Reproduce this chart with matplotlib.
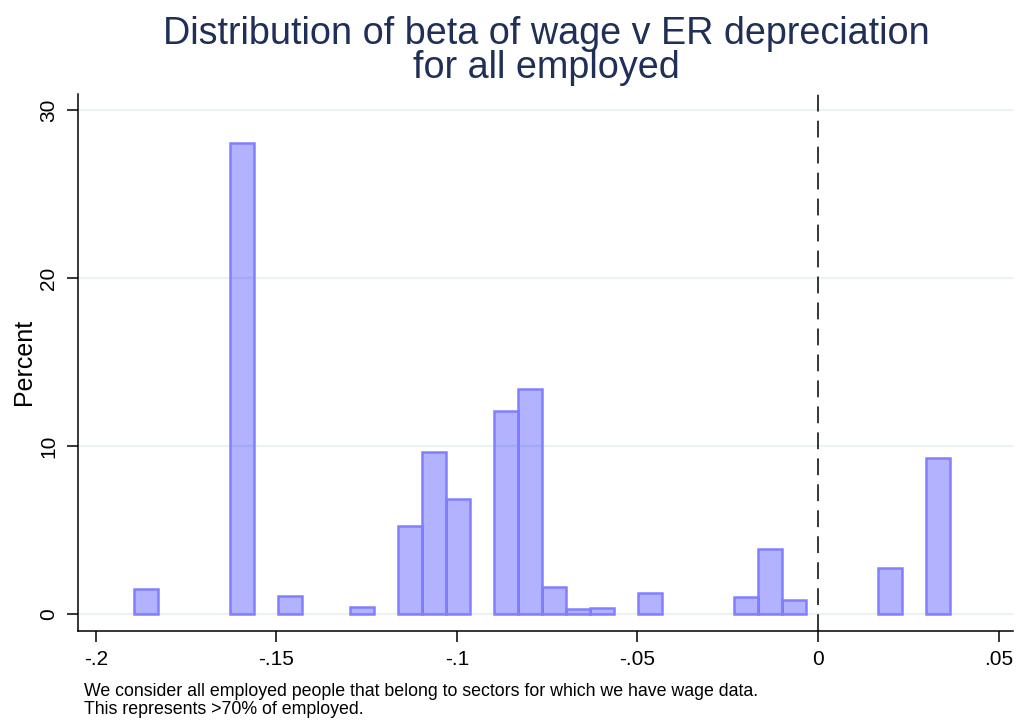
import matplotlib
matplotlib.use("Agg")
import matplotlib.pyplot as plt

plt.rcParams["font.family"] = ["Liberation Sans", "DejaVu Sans"]

# histogram bins: lower edge of each non-empty bin and its percent
bin_width = 0.006642
bin_lo = [-0.1894, -0.1628, -0.1495, -0.1296, -0.1163, -0.1097, -0.1031,
          -0.0898, -0.0831, -0.0765, -0.0698, -0.0632, -0.0499,
          -0.0234, -0.0167, -0.0101, 0.0165, 0.0298]
percent = [1.45, 28.08, 1.07, 0.38, 5.23, 9.64, 6.84,
           12.1, 13.42, 1.61, 0.26, 0.36, 1.25,
           0.99, 3.88, 0.83, 2.74, 9.30]

x_ticks = [-0.2, -0.15, -0.1, -0.05, 0, 0.05]
x_labels = ["-.2", "-.15", "-.1", "-.05", "0", ".05"]
y_ticks = [0, 10, 20, 30]

title = "Distribution of beta of wage v ER depreciation\nfor all employed"
note = ("We consider all employed people that belong to sectors for which we have wage data.\n"
        "This represents >70% of employed.")

fig = plt.figure(figsize=(10.16, 7.23), dpi=100)
ax = fig.add_axes([0.0765, 0.1272, 0.9206, 0.7433])

for y in y_ticks:
    ax.axhline(y, color="#eaf2f3", linewidth=1.6, zorder=0)

ax.bar(bin_lo, percent, width=bin_width, align="edge",
       facecolor=(0, 0, 1, 0.3), edgecolor="#8080ff", linewidth=1.8, zorder=2)

ax.axvline(0, color="black", linewidth=1.1, dashes=(11, 6), zorder=3)

ax.set_xlim(-0.205, 0.054)
ax.set_ylim(-1.03, 31.0)
ax.set_xticks(x_ticks)
ax.set_xticklabels(x_labels)
ax.set_yticks(y_ticks)
ax.set_yticklabels([str(v) for v in y_ticks], rotation=90, va="center")
ax.tick_params(direction="out", length=8, width=1.1, labelsize=15, pad=6)
ax.spines["top"].set_visible(False)
ax.spines["right"].set_visible(False)
ax.spines["left"].set_linewidth(1.1)
ax.spines["bottom"].set_linewidth(1.1)
ax.set_ylabel("Percent", fontsize=18, labelpad=2.5)

fig.text(0.5374, 0.978, title, ha="center", va="top", fontsize=27.2,
         color="#1f2f57", linespacing=0.94)
fig.text(0.0827, 0.031, note, ha="left", va="center", fontsize=12.8, linespacing=1.05)

fig.savefig("out.png", dpi=100)
